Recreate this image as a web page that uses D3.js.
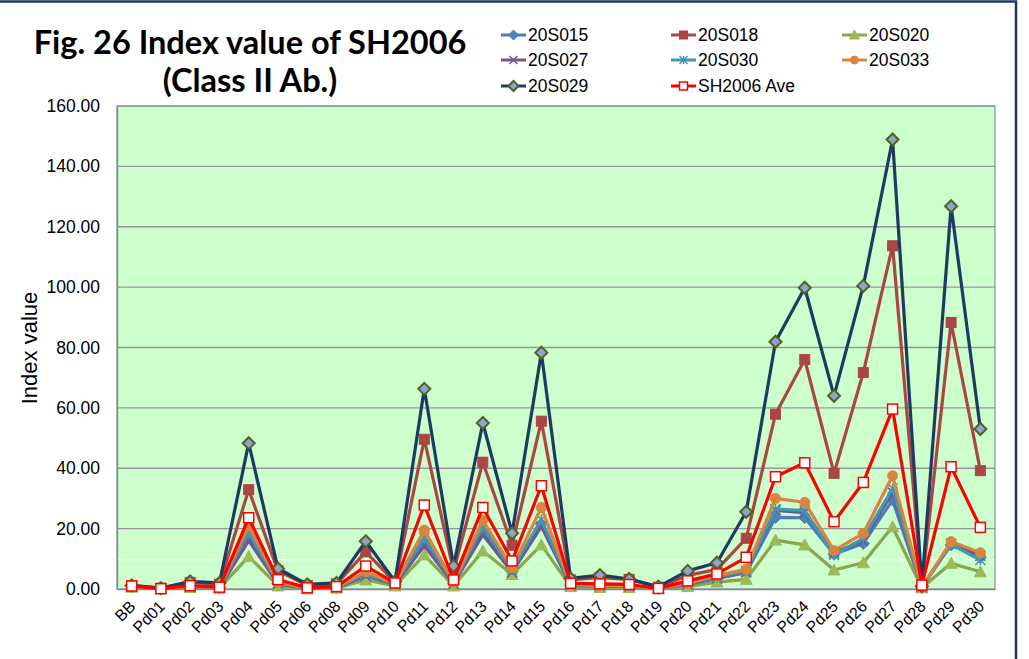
<!DOCTYPE html>
<html>
<head>
<meta charset="utf-8">
<script src="https://cdn.jsdelivr.net/npm/d3@7"></script>
<style>
  body { margin: 0; background: #fff; }
  svg { display: block; }
</style>
</head>
<body>
<svg id="chart"></svg>
<script>
// categories along the x axis (no Pd07 in the source)
const categories = ["BB", "Pd01", "Pd02", "Pd03", "Pd04", "Pd05", "Pd06", "Pd08", "Pd09", "Pd10",
  "Pd11", "Pd12", "Pd13", "Pd14", "Pd15", "Pd16", "Pd17", "Pd18", "Pd19", "Pd20",
  "Pd21", "Pd22", "Pd23", "Pd24", "Pd25", "Pd26", "Pd27", "Pd28", "Pd29", "Pd30"];

const s20S015 = [0.8, 0.1, 0.7, 0.4, 17.0, 1.8, 0.2, 0.5, 4.6, 1.6, 15.5, 1.8, 19.5, 5.8, 21.5, 1.3, 1.0, 0.9, 0.2, 1.6, 3.7, 5.5, 23.7, 23.6, 11.5, 15.1, 29.5, 0.6, 14.6, 10.5];
const s20S018 = [1.1, 0.3, 2.2, 1.6, 32.9, 6.0, 1.2, 1.7, 12.3, 2.2, 49.6, 6.0, 42.0, 14.5, 55.6, 3.0, 3.8, 3.2, 0.6, 4.5, 6.5, 16.8, 57.9, 76.0, 38.3, 71.7, 113.7, 0.9, 88.3, 39.2];
const s20S020 = [0.6, 0.1, 0.5, 0.3, 10.8, 1.0, 0.1, 0.3, 3.0, 1.0, 11.3, 1.0, 12.6, 4.8, 14.6, 0.8, 0.5, 0.5, 0.1, 0.8, 2.3, 3.2, 16.2, 14.6, 6.3, 8.7, 20.6, 0.4, 8.5, 5.7];
const s20S027 = [0.8, 0.1, 0.7, 0.4, 16.0, 1.7, 0.2, 0.5, 4.3, 1.5, 14.3, 1.7, 18.0, 5.5, 20.7, 1.2, 1.0, 0.9, 0.2, 1.5, 3.5, 5.5, 26.0, 25.3, 12.0, 16.0, 32.0, 0.6, 15.0, 11.0];
const s20S030 = [0.9, 0.1, 0.8, 0.5, 19.0, 2.0, 0.3, 0.5, 5.0, 1.7, 17.0, 2.0, 21.0, 6.3, 23.0, 1.4, 1.1, 1.0, 0.2, 1.8, 4.0, 6.0, 26.5, 26.0, 11.3, 16.8, 33.3, 0.7, 14.8, 9.6];
const s20S033 = [0.9, 0.1, 0.9, 0.5, 21.0, 2.3, 0.3, 0.6, 5.7, 1.8, 19.5, 2.2, 22.8, 7.0, 27.0, 1.5, 1.2, 1.1, 0.2, 2.0, 4.5, 6.5, 30.0, 28.7, 12.7, 18.4, 37.5, 0.7, 15.7, 12.0];
const s20S029 = [1.2, 0.3, 2.5, 2.0, 48.3, 6.8, 1.5, 2.0, 15.8, 2.5, 66.3, 7.6, 55.0, 18.5, 78.3, 3.5, 4.6, 3.3, 0.8, 6.0, 8.7, 25.6, 81.9, 99.8, 64.0, 100.4, 148.9, 1.0, 126.8, 53.0];
const sAve    = [1.0, 0.1, 1.1, 0.6, 23.6, 3.1, 0.4, 0.8, 7.6, 2.0, 27.8, 3.0, 27.0, 9.3, 34.2, 1.9, 1.7, 1.5, 0.2, 2.7, 5.0, 10.5, 37.2, 41.8, 22.3, 35.3, 59.6, 1.3, 40.5, 20.4];

const yTicks = [0, 20, 40, 60, 80, 100, 120, 140, 160];
const whiteLineValue = 9.7;

const series = [
  {name: "20S015", values: s20S015, line: "#4A7EBB", fill: "#4F81BD", stroke: "#4F81BD", marker: "diamond"},
  {name: "20S018", values: s20S018, line: "#AA4643", fill: "#AA4643", stroke: "#AA4643", marker: "square"},
  {name: "20S020", values: s20S020, line: "#89A54E", fill: "#9BBB59", stroke: "#9BBB59", marker: "triangle"},
  {name: "20S027", values: s20S027, line: "#71588F", fill: "none", stroke: "#71588F", marker: "x"},
  {name: "20S030", values: s20S030, line: "#4198AF", fill: "none", stroke: "#4198AF", marker: "star"},
  {name: "20S033", values: s20S033, line: "#DB843D", fill: "#DB843D", stroke: "#DB843D", marker: "circle"},
  {name: "20S029", values: s20S029, line: "#1F3A60", fill: "#8EA5CB", stroke: "#4F6228", marker: "diamond"},
  {name: "SH2006 Ave", values: sAve, line: "#FF0000", fill: "#FFFFFF", stroke: "#FF0000", marker: "square"}
];

const W = 1029, H = 659;
const plot = {left: 117, right: 995, top: 106, bottom: 589};

const svg = d3.select("#chart").attr("width", W).attr("height", H);

// outer frame
svg.append("rect")
  .attr("x", -5).attr("y", 1.5).attr("width", 1021).attr("height", 700)
  .attr("fill", "#fff").attr("stroke", "#203864").attr("stroke-width", 2.5);

const x = d3.scaleBand().domain(categories).range([plot.left, plot.right]);
const y = d3.scaleLinear().domain([0, 160]).range([plot.bottom, plot.top]);
const cx = d => x(d) + x.bandwidth() / 2;

// plot area
svg.append("rect")
  .attr("x", plot.left).attr("y", plot.top)
  .attr("width", plot.right - plot.left).attr("height", plot.bottom - plot.top)
  .attr("fill", "#CCFFCC");

svg.append("g")
  .selectAll("line")
  .data(yTicks.slice(1))
  .enter().append("line")
    .attr("x1", plot.left).attr("x2", plot.right)
    .attr("y1", d => y(d)).attr("y2", d => y(d))
    .attr("stroke", "#979797").attr("stroke-width", 1.3);

svg.append("line")
  .attr("x1", plot.left).attr("x2", plot.right)
  .attr("y1", y(whiteLineValue)).attr("y2", y(whiteLineValue))
  .attr("stroke", "#fff").attr("stroke-width", 1.3);

svg.append("rect")
  .attr("x", plot.left).attr("y", plot.top)
  .attr("width", plot.right - plot.left).attr("height", plot.bottom - plot.top)
  .attr("fill", "none").attr("stroke", "#8A9CA8").attr("stroke-width", 1.3);

// y axis
const yAxis = svg.append("g")
  .attr("transform", "translate(" + plot.left + ",0)")
  .call(d3.axisLeft(y).tickValues(yTicks).tickSize(0).tickPadding(17).tickFormat(d3.format(".2f")));
yAxis.select(".domain").attr("stroke", "#868686").attr("stroke-width", 1.3);
yAxis.selectAll("text")
  .attr("font-family", "Liberation Sans, Arial, sans-serif")
  .attr("font-size", 17.5).attr("fill", "#000");

// x axis
const xAxis = svg.append("g")
  .attr("transform", "translate(0," + plot.bottom + ")")
  .call(d3.axisBottom(x).tickSize(0).tickPadding(0));
xAxis.select(".domain").attr("stroke", "#868686").attr("stroke-width", 1.3);
xAxis.selectAll("text")
  .attr("font-family", "Liberation Sans, Arial, sans-serif")
  .attr("font-size", 16).attr("fill", "#000")
  .attr("text-anchor", "end")
  .attr("x", -9.5).attr("y", 11).attr("dy", "0.35em")
  .attr("transform", "rotate(-45)");

svg.append("text")
  .attr("transform", "translate(37,348) rotate(-90)")
  .attr("text-anchor", "middle")
  .attr("font-family", "Liberation Sans, Arial, sans-serif")
  .attr("font-size", 22)
  .text("Index value");

// markers
function drawMarker(g, s, size) {
  const r = size / 2;
  if (s.marker === "diamond") {
    g.append("path").attr("d", `M0,${-r - 1}L${r + 1},0L0,${r + 1}L${-r - 1},0Z`)
      .attr("fill", s.fill).attr("stroke", s.stroke).attr("stroke-width", s.name === "20S029" ? 2 : 1);
  } else if (s.marker === "square") {
    g.append("rect").attr("x", -r).attr("y", -r).attr("width", size).attr("height", size)
      .attr("fill", s.fill).attr("stroke", s.stroke).attr("stroke-width", s.name === "SH2006 Ave" ? 1.5 : 1);
  } else if (s.marker === "triangle") {
    g.append("path").attr("d", `M0,${-r - 1}L${r + 1},${r}L${-r - 1},${r}Z`)
      .attr("fill", s.fill).attr("stroke", s.stroke);
  } else if (s.marker === "circle") {
    g.append("circle").attr("r", r).attr("fill", s.fill).attr("stroke", s.stroke);
  } else if (s.marker === "x") {
    g.append("path").attr("d", `M${-r},${-r}L${r},${r}M${-r},${r}L${r},${-r}`)
      .attr("stroke", s.stroke).attr("stroke-width", 1.5);
  } else if (s.marker === "star") {
    g.append("path").attr("d", `M${-r},${-r}L${r},${r}M${-r},${r}L${r},${-r}M0,${-r}L0,${r}`)
      .attr("stroke", s.stroke).attr("stroke-width", 1.5);
  }
}

const line = d3.line().x((d, i) => cx(categories[i])).y(d => y(d));

series.forEach(s => {
  const g = svg.append("g").attr("class", "series");
  g.append("path")
    .attr("d", line(s.values))
    .attr("fill", "none")
    .attr("stroke", s.line)
    .attr("stroke-width", 3.2)
    .attr("stroke-linejoin", "round");
  s.values.forEach((v, i) => {
    const m = g.append("g").attr("transform", "translate(" + cx(categories[i]) + "," + y(v) + ")");
    drawMarker(m, s, 10);
  });
});

// title
const title = svg.append("text")
  .attr("text-anchor", "middle")
  .attr("font-family", "Lato, Open Sans, sans-serif")
  .attr("font-weight", "bold")
  .attr("font-size", 32.5);
title.append("tspan").attr("x", 250).attr("y", 54).text("Fig. 26 Index value of SH2006");
title.append("tspan").attr("x", 250).attr("y", 92).text("(Class II Ab.)");

// legend
const legendPos = [[501, 35], [671, 35], [842, 35], [501, 60], [671, 60], [842, 60], [501, 86], [671, 86]];
const legendOrder = ["20S015", "20S018", "20S020", "20S027", "20S030", "20S033", "20S029", "SH2006 Ave"];
const legend = svg.append("g")
  .selectAll("g")
  .data(legendOrder.map(n => series.find(s => s.name === n)))
  .enter().append("g")
    .attr("transform", (d, i) => "translate(" + legendPos[i][0] + "," + legendPos[i][1] + ")");
legend.append("line")
  .attr("x1", 0).attr("x2", 25)
  .attr("stroke", d => d.line).attr("stroke-width", 3);
legend.each(function(d) {
  const m = d3.select(this).append("g").attr("transform", "translate(12.5,0)");
  drawMarker(m, d, 8);
});
legend.append("text")
  .attr("x", 27).attr("dy", "0.36em")
  .attr("font-family", "Liberation Sans, Arial, sans-serif")
  .attr("font-size", 17.5)
  .text(d => d.name);
</script>
</body>
</html>
